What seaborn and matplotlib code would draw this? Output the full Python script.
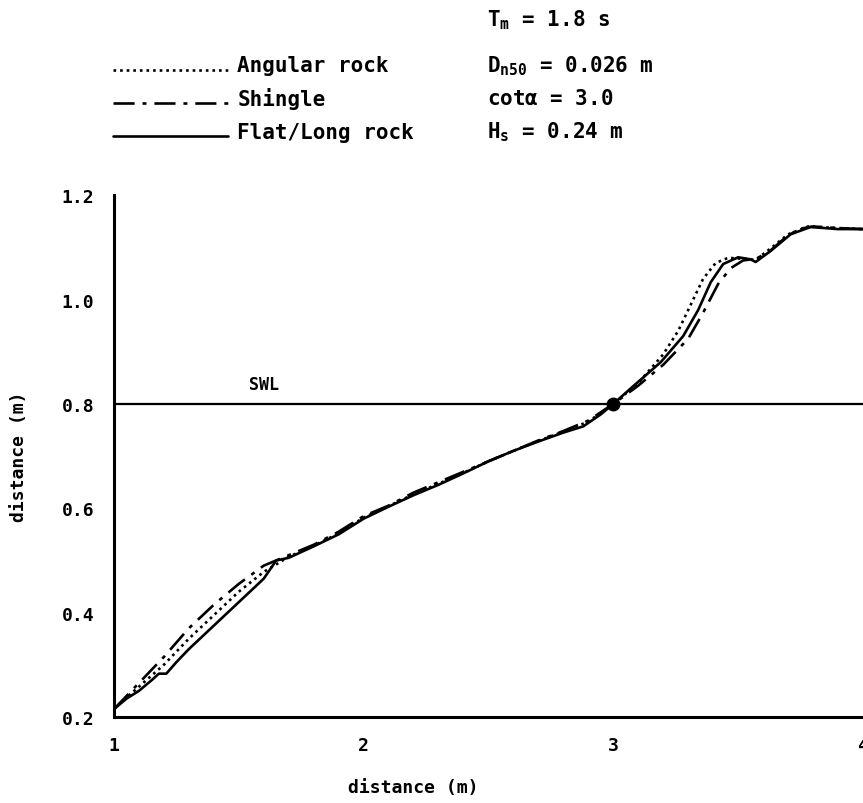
import matplotlib
matplotlib.use("Agg")
import matplotlib.pyplot as plt
from matplotlib.lines import Line2D
import seaborn as sns
import pandas as pd

# profile data (distance along flume, elevation)
flat_x = [1.0, 1.05, 1.1, 1.15, 1.18, 1.21, 1.25, 1.3, 1.4, 1.5, 1.6, 1.65, 1.7, 1.8,
          1.9, 2.0, 2.1, 2.2, 2.3, 2.4, 2.5, 2.6, 2.7, 2.8, 2.88, 2.95, 3.0, 3.08, 3.19,
          3.28, 3.34, 3.39, 3.44, 3.50, 3.55, 3.57, 3.63, 3.71, 3.79, 3.90, 4.0]
flat_y = [0.215, 0.235, 0.25, 0.27, 0.283, 0.283, 0.305, 0.33, 0.375, 0.42, 0.465, 0.5,
          0.505, 0.527, 0.55, 0.58, 0.603, 0.625, 0.645, 0.667, 0.69, 0.71, 0.728, 0.745,
          0.757, 0.78, 0.80, 0.834, 0.88, 0.93, 0.98, 1.033, 1.068, 1.081, 1.077, 1.072,
          1.093, 1.125, 1.139, 1.135, 1.135]

shingle_x = [1.0, 1.05, 1.1, 1.2, 1.3, 1.4, 1.5, 1.6, 1.7, 1.8, 1.9, 2.0, 2.1, 2.2, 2.3,
             2.4, 2.5, 2.6, 2.7, 2.8, 2.9, 3.0, 3.1, 3.2, 3.3, 3.36, 3.42, 3.47, 3.52,
             3.57, 3.62, 3.68, 3.74, 3.8, 3.9, 4.0]
shingle_y = [0.215, 0.24, 0.265, 0.315, 0.37, 0.415, 0.455, 0.49, 0.51, 0.53, 0.555, 0.585,
             0.605, 0.63, 0.65, 0.67, 0.69, 0.71, 0.73, 0.748, 0.768, 0.80, 0.835, 0.875,
             0.925, 0.975, 1.03, 1.06, 1.075, 1.078, 1.09, 1.115, 1.135, 1.14, 1.137, 1.135]

angular_x = [1.0, 1.05, 1.1, 1.2, 1.3, 1.4, 1.5, 1.6, 1.7, 1.8, 1.9, 2.0, 2.1, 2.2, 2.3,
             2.4, 2.5, 2.6, 2.7, 2.8, 2.9, 3.0, 3.1, 3.2, 3.26, 3.31, 3.36, 3.41, 3.46,
             3.52, 3.57, 3.63, 3.70, 3.78, 3.9, 4.0]
angular_y = [0.215, 0.237, 0.258, 0.3, 0.35, 0.395, 0.44, 0.478, 0.507, 0.528, 0.552, 0.582,
             0.604, 0.627, 0.647, 0.668, 0.69, 0.71, 0.729, 0.747, 0.766, 0.80, 0.84, 0.895,
             0.94, 0.99, 1.04, 1.07, 1.08, 1.078, 1.076, 1.098, 1.125, 1.14, 1.137, 1.135]

swl_level = 0.8
x_ticks = [1, 2, 3, 4]
y_ticks = [0.2, 0.4, 0.6, 0.8, 1.0, 1.2]

sns.set_style("white")
plt.rcParams['font.family'] = ['DejaVu Sans Mono']
plt.rcParams['font.weight'] = 'bold'
plt.rcParams['axes.labelweight'] = 'bold'
plt.rcParams['mathtext.default'] = 'regular'
plt.rcParams['text.color'] = 'black'
plt.rcParams['axes.labelcolor'] = 'black'
plt.rcParams['xtick.color'] = 'black'
plt.rcParams['ytick.color'] = 'black'

fig = plt.figure(figsize=(8.63, 8.04), dpi=100)
ax = fig.add_axes([0.132, 0.107, 0.868, 0.649])

lw = 1.9
sns.lineplot(x=angular_x, y=angular_y, ax=ax, color='black', lw=lw, linestyle=(0, (1, 1.5)))
sns.lineplot(x=shingle_x, y=shingle_y, ax=ax, color='black', lw=lw, linestyle=(0, (8, 3, 1.5, 3)))
sns.lineplot(x=flat_x, y=flat_y, ax=ax, color='black', lw=lw)

ax.axhline(swl_level, color='black', lw=1.6)
ax.plot([3.0], [swl_level], 'o', color='black', ms=9)
ax.text(1.54, 0.838, 'SWL', fontsize=12, ha='left', va='center')

ax.set_xlim(1, 4)
ax.set_ylim(0.2, 1.2)
ax.set_xticks(x_ticks)
ax.set_xticklabels([str(t) for t in x_ticks])
ax.set_yticks(y_ticks)
ax.set_yticklabels([f"{t:.1f}" for t in y_ticks])
ax.tick_params(direction='inout', length=12, width=2, labelsize=13, pad=8)
for s in ['top', 'right']:
    ax.spines[s].set_visible(False)
for s in ['left', 'bottom']:
    ax.spines[s].set_linewidth(2.2)
    ax.spines[s].set_color('black')

ax.set_xlabel('distance (m)', fontsize=13)
ax.set_ylabel('distance (m)', fontsize=13)
ax.xaxis.set_label_coords(0.4, -0.117)
ax.yaxis.set_label_coords(-0.115, 0.5)

# manual legend + test conditions
leg_rows = [(0.918, 'Angular rock', (0, (1, 1.5))),
            (0.877, 'Shingle', (0, (8, 3, 1.5, 3))),
            (0.835, 'Flat/Long rock', '-')]
for y, label, ls in leg_rows:
    fig.add_artist(Line2D([0.131, 0.264], [y - 0.006, y - 0.006], color='black', lw=lw,
                          linestyle=ls, transform=fig.transFigure))
    fig.text(0.275, y, label, fontsize=15, va='center')

fig.text(0.564, 0.975, r'$T_m$ = 1.8 s', fontsize=15, va='center')
fig.text(0.564, 0.918, r'$D_{n50}$ = 0.026 m', fontsize=15, va='center')
fig.text(0.564, 0.877, r'cot$\alpha$ = 3.0', fontsize=15, va='center')
fig.text(0.564, 0.835, r'$H_s$ = 0.24 m', fontsize=15, va='center')

fig.savefig('out.png', dpi=100)
